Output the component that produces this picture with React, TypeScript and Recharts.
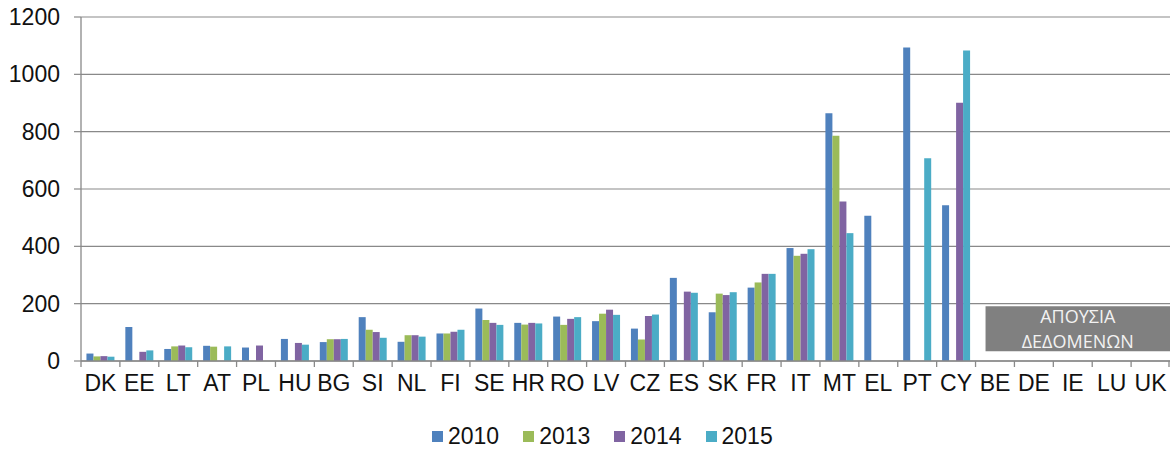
import React from 'react';
import { BarChart, Bar, XAxis, YAxis, CartesianGrid, Legend, ReferenceArea } from 'recharts';

const categories = ['DK','EE','LT','AT','PL','HU','BG','SI','NL','FI','SE','HR','RO','LV','CZ','ES','SK','FR','IT','MT','EL','PT','CY','BE','DE','IE','LU','UK'];
const s2010 = [26,119,42,53,47,77,66,153,67,96,183,133,155,139,113,290,170,256,394,864,507,1094,543,null,null,null,null,null];
const s2013 = [16,null,51,50,null,null,76,109,90,96,143,127,126,165,75,null,235,274,367,786,null,null,null,null,null,null,null,null];
const s2014 = [17,32,54,null,54,63,76,101,90,102,133,133,147,179,157,242,230,304,374,556,null,null,901,null,null,null,null,null];
const s2015 = [15,37,48,51,null,57,77,81,85,109,126,131,153,161,162,238,240,304,390,446,null,707,1083,null,null,null,null,null];
const yTicks = [0,200,400,600,800,1000,1200];
const seriesNames = ['2010','2013','2014','2015'];
const seriesColors = ['#4F81BD','#9BBB59','#8064A2','#4BACC6'];
const noDataLines = ['ΑΠΟΥΣΙΑ','ΔΕΔΟΜΕΝΩΝ'];
const noDataRange = { x1: 'BE', x2: 'UK', y1: 34, y2: 191 };

const data = categories.map((c, i) => ({
  name: c,
  '2010': s2010[i],
  '2013': s2013[i],
  '2014': s2014[i],
  '2015': s2015[i],
}));

const AXIS = '#898989';
const FONT = '"Liberation Sans", Arial, sans-serif';

const XTick = (props: any) => {
  const { x, y, payload, index } = props;
  const half = payload && payload.offset ? payload.offset : 19.45;
  const last = index === categories.length - 1;
  return (
    <g>
      <line x1={x - half} x2={x - half} y1={y - 14} y2={y - 8} stroke={AXIS} strokeWidth={1.3} />
      {last && <line x1={x + half - 1} x2={x + half - 1} y1={y - 14} y2={y - 8} stroke={AXIS} strokeWidth={1.3} />}
      <text x={x} y={y} dy="0.71em" textAnchor="middle" fontSize={23} fontFamily={FONT} fill="#111">{payload.value}</text>
    </g>
  );
};

const NoDataShape = (props: any) => {
  const { x, y, width, height } = props;
  const inset = 10;
  const cx = x + inset + (width - inset) / 2;
  return (
    <g>
      <rect x={x + inset} y={y} width={width - inset} height={height} fill="#808080" />
      <text x={cx} y={y + 17} textAnchor="middle" fontSize={18} fontFamily='"Open Sans", sans-serif' fill="#f2f2f2">{noDataLines[0]}</text>
      <text x={cx} y={y + 42} textAnchor="middle" fontSize={18} fontFamily='"Open Sans", sans-serif' fill="#f2f2f2">{noDataLines[1]}</text>
    </g>
  );
};

const LegendContent = () => (
  <div style={{ display: 'flex', alignItems: 'center', fontFamily: FONT, fontSize: 23, color: '#111' }}>
    {seriesNames.map((n, i) => (
      <div key={n} style={{ display: 'flex', alignItems: 'center', marginRight: i < seriesNames.length - 1 ? 24 : 0 }}>
        <span style={{ display: 'inline-block', width: 11, height: 11, background: seriesColors[i], marginRight: 5 }} />
        <span>{n}</span>
      </div>
    ))}
  </div>
);

export default function App() {
  return (
    <div>
      <style>{'body{margin:0;background:#fff}'}</style>
      <BarChart
        width={1170}
        height={450}
        data={data}
        margin={{ top: 17, right: 0, bottom: 59, left: 0 }}
        barCategoryGap="14%"
        barGap={0}
      >
        <CartesianGrid horizontal vertical={false} stroke={AXIS} strokeWidth={1.2} />
        <XAxis
          dataKey="name"
          height={30}
          interval={0}
          axisLine={{ stroke: AXIS, strokeWidth: 1.3 }}
          tickLine={false}
          tickSize={0}
          tickMargin={14}
          tick={<XTick />}
        />
        <YAxis
          width={81}
          domain={[0, 1200]}
          ticks={yTicks}
          interval={0}
          axisLine={{ stroke: AXIS, strokeWidth: 1.3 }}
          tickLine={{ stroke: AXIS, strokeWidth: 1.2 }}
          tickSize={7}
          tickMargin={14}
          tick={{ fontSize: 23, fontFamily: FONT, fill: '#111' }}
        />
        <ReferenceArea
          x1={noDataRange.x1}
          x2={noDataRange.x2}
          y1={noDataRange.y1}
          y2={noDataRange.y2}
          shape={<NoDataShape />}
          ifOverflow="visible"
        />
        {seriesNames.map((n, i) => (
          <Bar key={n} dataKey={n} fill={seriesColors[i]} isAnimationActive={false} />
        ))}
        <Legend
          layout="horizontal"
          verticalAlign="middle"
          align="center"
          content={<LegendContent />}
          wrapperStyle={{ top: 423, left: 432, width: 'auto' }}
        />
      </BarChart>
    </div>
  );
}
